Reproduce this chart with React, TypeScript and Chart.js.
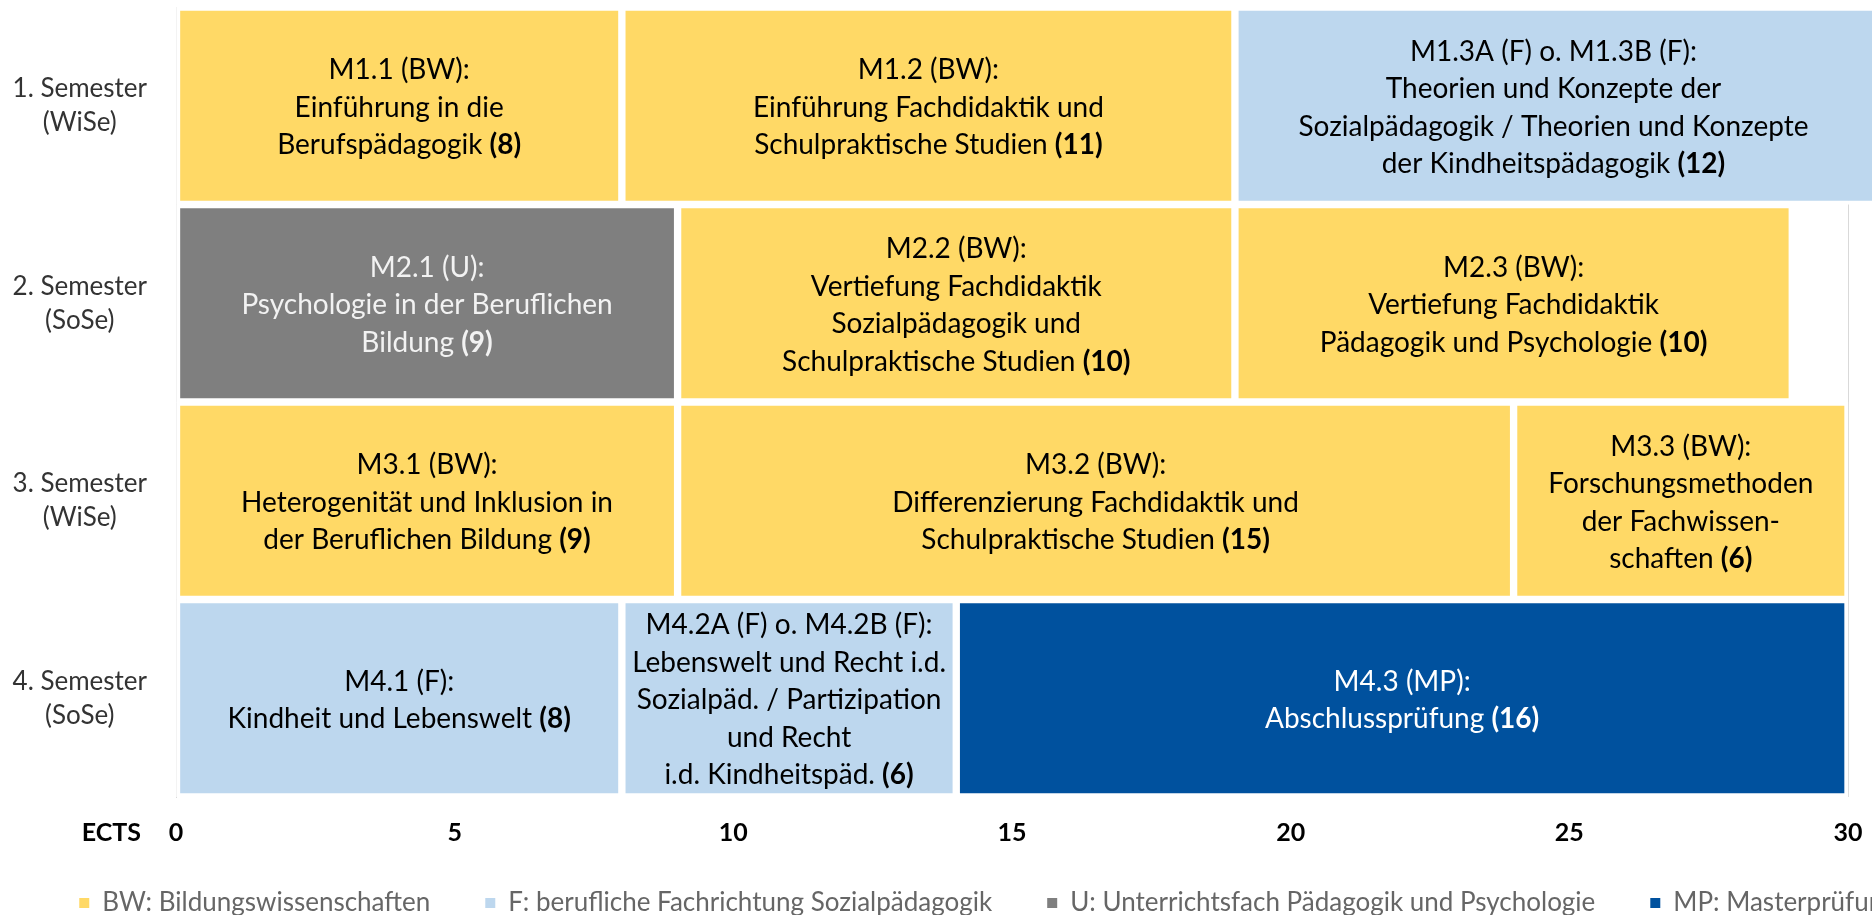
import React, { useEffect, useRef } from "react";
import { Chart, registerables } from "chart.js";

Chart.register(...registerables);

// ---------------- data ----------------
const semesterLabels: string[][] = [
  ["1. Semester", "(WiSe)"],
  ["2. Semester", "(SoSe)"],
  ["3. Semester", "(WiSe)"],
  ["4. Semester", "(SoSe)"],
];
const xTickValues = [0, 5, 10, 15, 20, 25, 30];
const axisTitle = "ECTS";

const module1Ects = [8, 9, 9, 8];
const module2Ects = [11, 10, 15, 6];
const module3Ects = [12, 10, 6, 16];

const module1Type = ["BW", "U", "BW", "F"];
const module2Type = ["BW", "BW", "BW", "F"];
const module3Type = ["F", "BW", "BW", "MP"];

const module1Text: string[][] = [
  ["M1.1 (BW):", "Einführung in die", "Berufspädagogik"],
  ["M2.1 (U):", "Psychologie in der Beruflichen", "Bildung"],
  ["M3.1 (BW):", "Heterogenität und Inklusion in", "der Beruflichen Bildung"],
  ["M4.1 (F):", "Kindheit und Lebenswelt"],
];
const module2Text: string[][] = [
  ["M1.2 (BW):", "Einführung Fachdidaktik und", "Schulpraktische Studien"],
  ["M2.2 (BW):", "Vertiefung Fachdidaktik", "Sozialpädagogik und", "Schulpraktische Studien"],
  ["M3.2 (BW):", "Differenzierung Fachdidaktik und", "Schulpraktische Studien"],
  ["M4.2A (F) o. M4.2B (F):", "Lebenswelt und Recht i.d.", "Sozialpäd. / Partizipation", "und Recht", "i.d. Kindheitspäd."],
];
const module3Text: string[][] = [
  ["M1.3A (F) o. M1.3B (F):", "Theorien und Konzepte der", "Sozialpädagogik / Theorien und Konzepte", "der Kindheitspädagogik"],
  ["M2.3 (BW):", "Vertiefung Fachdidaktik", "Pädagogik und Psychologie"],
  ["M3.3 (BW):", "Forschungsmethoden", "der Fachwissen-", "schaften"],
  ["M4.3 (MP):", "Abschlussprüfung"],
];

const legendCodes = ["BW", "F", "U", "MP"];
const legendTexts = [
  "BW: Bildungswissenschaften",
  "F: berufliche Fachrichtung Sozialpädagogik",
  "U: Unterrichtsfach Pädagogik und Psychologie",
  "MP: Masterprüfung",
];

const typeColors: Record<string, string> = {
  BW: "#FFD966",
  F: "#BDD7EE",
  U: "#7F7F7F",
  MP: "#00519E",
};
const typeTextColors: Record<string, string> = {
  BW: "#000000",
  F: "#000000",
  U: "#F2F2F2",
  MP: "#FFFFFF",
};

// ---------------- style ----------------
const FONT = "Lato";
const BAR_FONT_SIZE = 28;
const LINE_H = 37.5;
const TEXT_SHIFT = 2;
const VISIBLE_W = 1872;
const VISIBLE_H = 915;
const CANVAS_W = 1976;
const CANVAS_H = 926;
const PLOT_LEFT = 176;
const PLOT_RIGHT = 1848;
const PLOT_BOTTOM = 797;
const TICK_FONT_SIZE = 25;
const TICK_PAD = 21;
const LEGEND_PAD = 55;
const LEGEND_FONT = 26;

export default function App() {
  const ref = useRef<HTMLCanvasElement>(null);

  useEffect(() => {
    const prevMargin = document.body.style.margin;
    document.body.style.margin = "0";
    const canvas = ref.current!;
    const moduleTexts = [module1Text, module2Text, module3Text];
    const moduleTypes = [module1Type, module2Type, module3Type];
    const moduleEcts = [module1Ects, module2Ects, module3Ects];

    const normalFont = `${BAR_FONT_SIZE}px ${FONT}`;
    const boldFont = `bold ${BAR_FONT_SIZE}px ${FONT}`;

    const labelPlugin = {
      id: "moduleLabels",
      afterDatasetsDraw(chart: any) {
        const ctx = chart.ctx;
        ctx.save();
        ctx.textBaseline = "middle";
        ctx.textAlign = "left";
        chart.data.datasets.forEach((_ds: any, di: number) => {
          const meta = chart.getDatasetMeta(di);
          meta.data.forEach((el: any, i: number) => {
            const p = el.getProps(["x", "base", "y"], true);
            const left = Math.min(p.x, p.base);
            const right = Math.min(Math.max(p.x, p.base), VISIBLE_W);
            const cx = (left + right) / 2;
            const lines = moduleTexts[di][i];
            const n = lines.length;
            ctx.fillStyle = typeTextColors[moduleTypes[di][i]];
            lines.forEach((line: string, k: number) => {
              const ly = p.y + TEXT_SHIFT + (k - (n - 1) / 2) * LINE_H;
              if (k === n - 1) {
                ctx.font = normalFont;
                const a = line + " ";
                const wa = ctx.measureText(a).width;
                ctx.font = boldFont;
                const b = `(${moduleEcts[di][i]})`;
                const wb = ctx.measureText(b).width;
                const x0 = cx - (wa + wb) / 2;
                ctx.font = normalFont;
                ctx.fillText(a, x0, ly);
                ctx.font = boldFont;
                ctx.fillText(b, x0 + wa, ly);
              } else {
                ctx.font = normalFont;
                const w = ctx.measureText(line).width;
                ctx.fillText(line, cx - w / 2, ly);
              }
            });
          });
        });
        ctx.restore();
      },
      afterDraw(chart: any) {
        const ctx = chart.ctx;
        const xs = chart.scales.x;
        ctx.save();
        ctx.font = `bold ${TICK_FONT_SIZE}px ${FONT}`;
        ctx.fillStyle = "#000000";
        ctx.textAlign = "right";
        ctx.textBaseline = "middle";
        ctx.fillText(axisTitle, chart.chartArea.left - 35, xs.top + TICK_PAD + (TICK_FONT_SIZE * 1.2) / 2);
        ctx.restore();
      },
    };

    // legend box height = titleH + LEGEND_FONT + LEGEND_PAD + 10; keep it compact
    const legendHeight = 71;
    const titleH = legendHeight - 10 - LEGEND_FONT - LEGEND_PAD;

    const chart = new Chart(canvas, {
      type: "bar",
      data: {
        labels: semesterLabels as any,
        datasets: moduleEcts.map((vals, di) => ({
          label: `Modul ${di + 1}`,
          data: vals,
          backgroundColor: moduleTypes[di].map((t) => typeColors[t]),
          borderColor: "#FFFFFF",
          borderWidth: 4,
          borderSkipped: false,
          barPercentage: 1,
          categoryPercentage: 1,
          clip: false as any,
          xAxisID: "x",
          yAxisID: "y",
        })),
      },
      options: {
        indexAxis: "y",
        responsive: false,
        animation: false,
        devicePixelRatio: 1,
        events: [],
        layout: { padding: { top: 7, left: 0, right: 0, bottom: 0 } },
        scales: {
          x: {
            type: "linear",
            stacked: true,
            min: 0,
            max: 30,
            position: "bottom",
            afterBuildTicks: (s: any) => {
              s.ticks = xTickValues.map((v) => ({ value: v }));
            },
            afterFit: (s: any) => {
              s.height = CANVAS_H - legendHeight - PLOT_BOTTOM;
            },
            ticks: {
              font: { family: FONT, size: TICK_FONT_SIZE, weight: "bold" },
              color: "#000000",
              padding: TICK_PAD,
              maxRotation: 0,
              autoSkip: false,
            },
            grid: {
              drawTicks: false,
              color: (c: any) => (c.tick && c.tick.value === 30 ? "#D9D9D9" : "rgba(0,0,0,0)"),
            },
            border: { display: false },
          },
          y: {
            type: "category",
            stacked: true,
            position: "left",
            z: 1,
            afterFit: (s: any) => {
              s.width = PLOT_LEFT;
              s.paddingTop = 0;
              s.paddingBottom = 0;
            },
            ticks: {
              font: { family: FONT, size: 26, lineHeight: 1.3 },
              color: "#333333",
              padding: 29,
              crossAlign: "center",
            },
            grid: { display: false, drawTicks: false },
            border: { display: true, color: "#D9D9D9", width: 1 },
          },
          yRight: {
            type: "category",
            position: "right",
            afterFit: (s: any) => {
              s.width = CANVAS_W - PLOT_RIGHT;
              s.paddingTop = 0;
              s.paddingBottom = 0;
            },
            ticks: { display: false },
            grid: { display: false, drawTicks: false },
            border: { display: false },
          },
        } as any,
        plugins: {
          legend: {
            position: "bottom",
            align: "center",
            onClick: () => {},
            title: {
              display: true,
              text: " ",
              font: { family: FONT, size: 1, lineHeight: 1 },
              padding: { top: titleH - 1, bottom: 0 },
            },
            labels: {
              font: { family: FONT, size: LEGEND_FONT },
              color: "#404040",
              boxWidth: 10,
              boxHeight: 10,
              padding: LEGEND_PAD,
              generateLabels: () =>
                legendCodes.map((c, i) => ({
                  text: legendTexts[i],
                  fillStyle: typeColors[c],
                  strokeStyle: typeColors[c],
                  lineWidth: 0,
                  hidden: false,
                  index: i,
                })) as any,
            },
          },
          tooltip: { enabled: false },
        },
      },
      plugins: [labelPlugin],
    });

    return () => {
      chart.destroy();
      document.body.style.margin = prevMargin;
    };
  }, []);

  return (
    <div style={{ width: VISIBLE_W, height: VISIBLE_H, overflow: "hidden", background: "#FFFFFF" }}>
      <canvas ref={ref} width={CANVAS_W} height={CANVAS_H} style={{ display: "block" }} />
    </div>
  );
}
